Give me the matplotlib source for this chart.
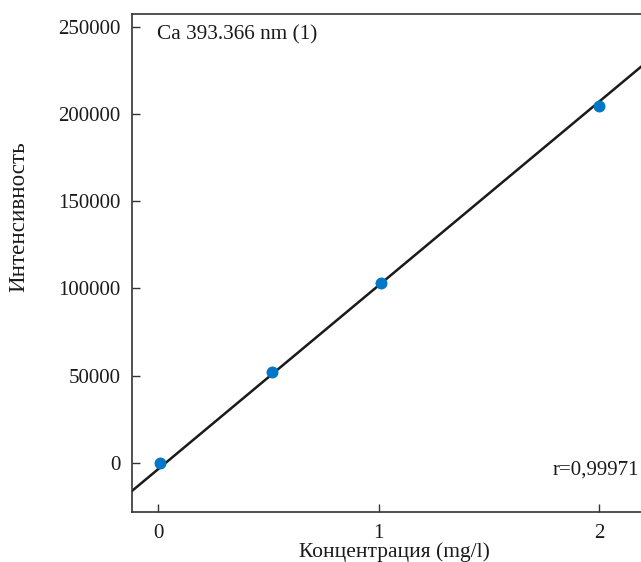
import matplotlib
matplotlib.use("Agg")
import matplotlib.pyplot as plt
import numpy as np

# Data
conc = [0.01, 0.515, 1.01, 2.0]
intensity = [0, 52300, 102900, 204600]
fit_slope = 105280
fit_intercept = -3595
x_ticks = [0, 1, 2]
y_ticks = [0, 50000, 100000, 150000, 200000, 250000]
title_text = "Ca 393.366 nm (1)"
r_text = "r=0,99971"
x_label = "Концентрация (mg/l)"
y_label = "Интенсивность"

plt.rcParams['font.family'] = ['Liberation Serif', 'DejaVu Serif']

W, H = 641, 562
fig = plt.figure(figsize=(W / 100, H / 100), dpi=100)
ax = fig.add_axes([132.3 / W, 1 - 511.7 / H, 1 - 132.3 / W, (511.7 - 14) / H])

xmin, xmax = -0.1165, 2.19
ymin, ymax = -27900, 257200
ax.set_xlim(xmin, xmax)
ax.set_ylim(ymin, ymax)

xx = np.array([xmin, xmax])
ax.plot(xx, fit_slope * xx + fit_intercept, color='#1a1a1a', lw=1.8, zorder=2)
ax.plot(conc, intensity, 'o', color='#0077c8', ms=8.6, mec='none', zorder=3)

ax.set_xticks(x_ticks)
ax.set_yticks(y_ticks)
ax.set_xticklabels([str(v) for v in x_ticks])
ax.set_yticklabels([str(v) for v in y_ticks])
ax.tick_params(axis='both', direction='in', length=5.8, width=1.0, color='#333333',
               labelsize=15, labelcolor='#1a1a1a')
ax.tick_params(axis='y', pad=8.4)
ax.tick_params(axis='x', pad=8.5)

for side in ['left', 'bottom', 'top']:
    ax.spines[side].set_color('#333333')
    ax.spines[side].set_linewidth(1.2)
ax.spines['right'].set_visible(False)

fig.text(157 / W, 1 - 39.5 / H, title_text, fontsize=15.3, ha='left', va='baseline', color='#1a1a1a')
fig.text(639 / W, 1 - 474.5 / H, r_text, fontsize=15, ha='right', va='baseline', color='#1a1a1a')
fig.text(394 / W, 1 - 557.5 / H, x_label, fontsize=15.5, ha='center', va='baseline', color='#1a1a1a')
fig.text(19 / W, 1 - 216.5 / H, y_label, fontsize=16.6, ha='center', va='center',
         rotation=90, color='#1a1a1a')

fig.savefig("out.png", dpi=100)
